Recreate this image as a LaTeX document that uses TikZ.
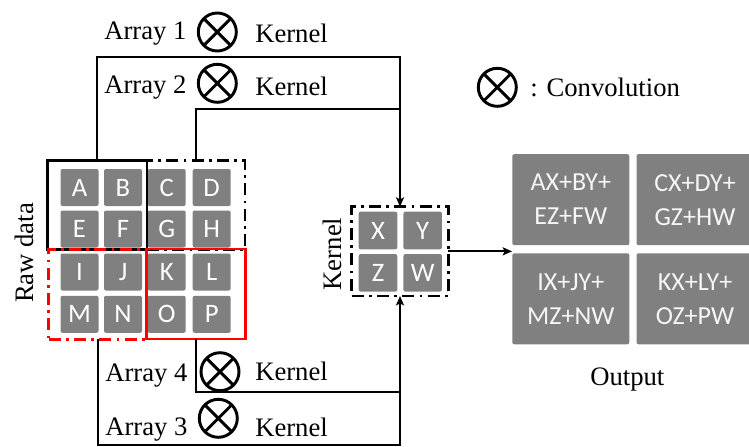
\documentclass[tikz,border=0pt]{standalone}
\usepackage{fontspec}
\setmainfont{Liberation Serif}
\newfontfamily\cellfont{Carlito}
\usetikzlibrary{arrows.meta}
\definecolor{cellgray}{RGB}{128,128,128}
\definecolor{txtlight}{RGB}{245,245,245}
\definecolor{myred}{RGB}{255,0,0}
\begin{document}
\begin{tikzpicture}[x=0.75pt,y=-0.75pt,
  cell/.style={fill=cellgray, rounded corners=1.5pt, minimum width=28.5pt, minimum height=27.75pt,
    inner sep=0, text=white, font=\cellfont\fontsize{20}{24}\selectfont},
  kcell/.style={cell, minimum width=28.9pt, minimum height=28.2pt},
  ocell/.style={fill=cellgray, rounded corners=1.5pt, minimum width=87.75pt, minimum height=68.25pt,
    inner sep=0, align=center, text=txtlight, font=\cellfont\fontsize{19.5}{25.5}\selectfont},
  boxline/.style={draw, line width=2.2pt, inner sep=0, outer sep=0, rectangle},
  ddash/.style={dash pattern=on 9pt off 4pt on 2pt off 4pt},
  conn/.style={line width=1.5pt},
  arr/.style={-{Stealth[length=7pt,width=6pt,inset=1.5pt]}},
  otimes/.style={circle, draw, line width=2.2pt, minimum size=28.5pt, inner sep=0, outer sep=0},
  lbl/.style={font=\fontsize{20}{24}\selectfont, inner sep=0, anchor=base west}]
\useasboundingbox (0,0) rectangle (749,446);

% raw data cells
\node[cell] (cA) at (79.5,187.5) {A};
\node[cell] (cB) at (123,187.5) {B};
\node[cell] (cC) at (166.7,187.5) {C};
\node[cell] (cD) at (211.7,187.5) {D};
\node[cell] (cE) at (79.5,229) {E};
\node[cell] (cF) at (123,229) {F};
\node[cell] (cG) at (166.7,229) {G};
\node[cell] (cH) at (211.7,229) {H};
\node[cell] (cI) at (79.5,272) {I};
\node[cell] (cJ) at (123,272) {J};
\node[cell] (cK) at (166.7,272) {K};
\node[cell] (cL) at (211.7,272) {L};
\node[cell] (cM) at (79.5,314.3) {M};
\node[cell] (cN) at (123,314.3) {N};
\node[cell] (cO) at (166.7,314.3) {O};
\node[cell] (cP) at (211.7,314.3) {P};

% array boxes
\node[boxline, ddash, minimum width=73.5pt, minimum height=66.5pt] (box2) at (196,205) {};
\node[boxline, minimum width=74.6pt, minimum height=66.5pt] (box1) at (97.25,205) {};
\node[boxline, ddash, draw=myred, minimum width=73.5pt, minimum height=67.3pt] (box3) at (97.5,294.2) {};
\node[boxline, draw=myred, minimum width=74.8pt, minimum height=67.5pt] (box4) at (195.9,294) {};

% kernel
\node[kcell] (kX) at (378,230.5) {X};
\node[kcell] (kY) at (422.7,230.5) {Y};
\node[kcell] (kZ) at (378,272.8) {Z};
\node[kcell] (kW) at (422.7,272.8) {W};
\node[boxline, ddash, minimum width=72.45pt, minimum height=67pt] (kbox) at (400,251.35) {};

% output cells
\node[ocell] (o1) at (570.8,199.65) {AX+BY+\\EZ+FW};
\node[ocell] (o2) at (695,199.65) {CX+DY+\\GZ+HW};
\node[ocell] (o3) at (570.8,298.8) {IX+JY+\\MZ+NW};
\node[ocell] (o4) at (695,298.8) {KX+LY+\\OZ+PW};

% labels
\node[lbl] (a1) at (104,39.3) {Array 1};
\node[lbl] (k1) at (255,42.7) {Kernel};
\node[lbl] (a2) at (104,93.3) {Array 2};
\node[lbl] (k2) at (255,95) {Kernel};
\node[lbl] (a4) at (105,381.7) {Array 4};
\node[lbl] (k4) at (255,380) {Kernel};
\node[lbl] (a3) at (105,435) {Array 3};
\node[lbl] (k3) at (255,436.7) {Kernel};
\node[lbl] (conv) at (530,96.7) {: Convolution};
\node[lbl] (outl) at (590,385) {Output};
\node[font=\fontsize{20}{24}\selectfont, inner sep=0, rotate=90, anchor=base] (raw) at (33.3,253) {Raw data};
\node[font=\fontsize{20}{24}\selectfont, inner sep=0, rotate=90, anchor=base] (kl) at (341.5,254) {Kernel};

% convolution symbols
\foreach \n/\x/\y in {s1/217.3/32, s2/217.3/83.3, s4/220/371.7, s3/218.3/418.3, sl/497.3/87.3}{
  \node[otimes] (\n) at (\x,\y) {};
  \draw[line width=2.2pt] (\n.north east) -- (\n.south west) (\n.north west) -- (\n.south east);
}

% connectors
\coordinate (t1) at (97.25,57.3);
\coordinate (j2) at (400,109);
\coordinate (j4) at (400,392.3);
\coordinate (t3) at (97.5,445);
\draw[conn] (box2.north) |- (j2);
\draw[conn, arr] (box1.north) -- (t1) -| (kbox.north);
\draw[conn] (box4.south) |- (j4);
\draw[conn, arr] (box3.south) -- (t3) -| (kbox.south);
\draw[conn, arr] (kbox.east) -- (kbox.east -| o1.west);
\end{tikzpicture}
\end{document}
